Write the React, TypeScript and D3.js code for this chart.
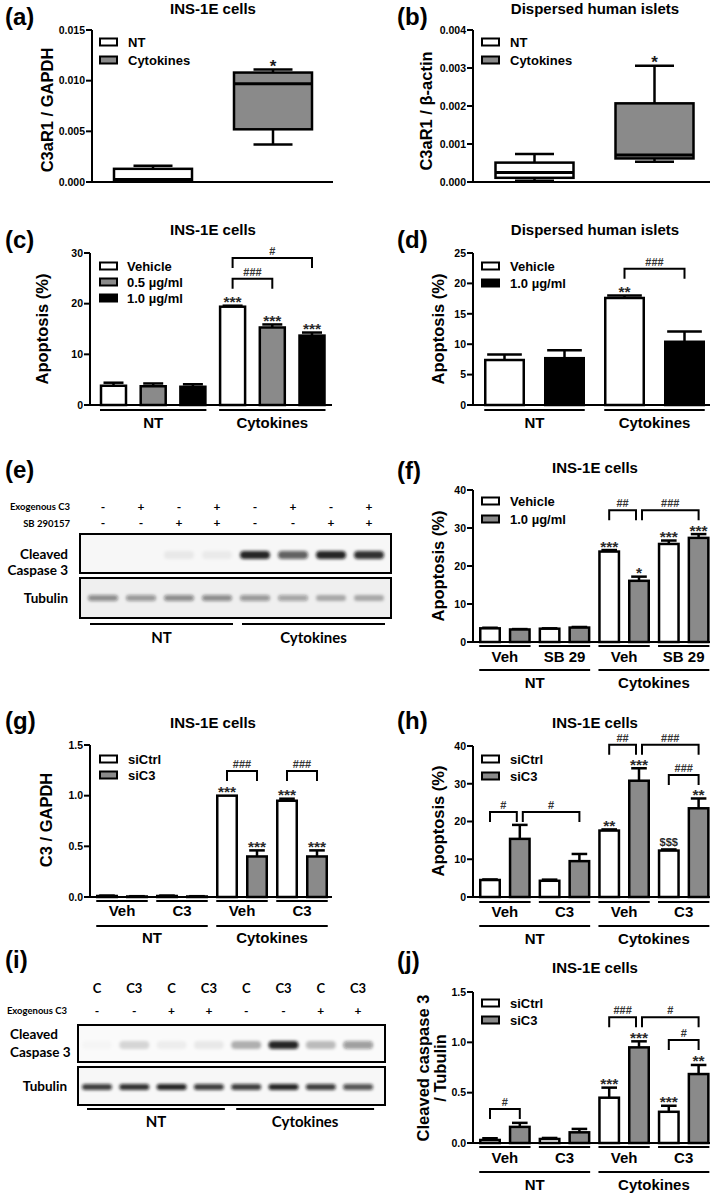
import React from 'react';
import * as d3 from 'd3';

const ARIAL = '"Liberation Sans", Arial, Helvetica, sans-serif';
const CALIBRI = 'Lato, "Open Sans", sans-serif';
const GRAY = '#8a8a8a';
const WHITE = '#ffffff';
const BLACK = '#000000';

type Bracket = { from: number; to: number; y: number; label: string };

// ---------- (a) / (b) box plots: [min, q1, median, q3, max]
const boxLegend = ['NT', 'Cytokines'];
const aBoxNT = [0.00003, 0.0001, 0.00025, 0.0013, 0.0016];
const aBoxCyt = [0.0037, 0.0052, 0.0097, 0.0108, 0.0111];
const aTicks = [0, 0.005, 0.01, 0.015];
const bBoxNT = [0.00003, 0.00011, 0.00025, 0.00051, 0.00074];
const bBoxCyt = [0.00053, 0.00062, 0.00071, 0.00207, 0.00306];
const bTicks = [0, 0.001, 0.002, 0.003, 0.004];
const boxStars = ['', '*'];

// ---------- (c)
const cLegend = ['Vehicle', '0.5 µg/ml', '1.0 µg/ml'];
const cValues = [3.8, 3.7, 3.6, 19.4, 15.3, 13.7];
const cErrors = [0.6, 0.55, 0.5, 0.2, 0.6, 0.6];
const cStars = ['', '', '', '***', '***', '***'];
const cTicks = [0, 10, 20, 30];
const cGroups = ['NT', 'Cytokines'];
const cBrackets: Bracket[] = [
  { from: 3, to: 4, y: 24.9, label: '###' },
  { from: 3, to: 5, y: 29.0, label: '#' },
];

// ---------- (d)
const dLegend = ['Vehicle', '1.0 µg/ml'];
const dValues = [7.4, 7.7, 17.6, 10.4];
const dErrors = [0.9, 1.3, 0.4, 1.7];
const dStars = ['', '', '**', ''];
const dTicks = [0, 5, 10, 15, 20, 25];
const dGroups = ['NT', 'Cytokines'];
const dBrackets: Bracket[] = [{ from: 2, to: 3, y: 22.4, label: '###' }];

// ---------- (e) western blot
const eExog = ['-', '+', '-', '+', '-', '+', '-', '+'];
const eSB = ['-', '-', '+', '+', '-', '-', '+', '+'];
const eCleaved = [0.0, 0.0, 0.06, 0.05, 0.9, 0.65, 0.9, 0.85];
const eTubulin = [0.45, 0.4, 0.45, 0.45, 0.4, 0.35, 0.3, 0.3];
const blotGroups = ['NT', 'Cytokines'];

// ---------- (f)
const fLegend = ['Vehicle', '1.0 µg/ml'];
const fValues = [3.6, 3.3, 3.5, 3.8, 23.8, 16.1, 25.8, 27.4];
const fErrors = [0.15, 0.1, 0.1, 0.15, 0.4, 1.1, 0.9, 1.0];
const fStars = ['', '', '', '', '***', '*', '***', '***'];
const fTicks = [0, 10, 20, 30, 40];
const fSub = ['Veh', 'SB 29', 'Veh', 'SB 29'];
const fGroups = ['NT', 'Cytokines'];
const fBrackets: Bracket[] = [
  { from: 4, to: 5, y: 34.7, label: '##' },
  { from: 5, to: 7, y: 34.7, label: '###' },
];

// ---------- (g)
const siLegend = ['siCtrl', 'siC3'];
const gValues = [0.01, 0.005, 0.01, 0.005, 1.0, 0.4, 0.95, 0.4];
const gErrors = [0.004, 0.003, 0.004, 0.003, 0.0, 0.06, 0.02, 0.06];
const gStars = ['', '', '', '', '***', '***', '***', '***'];
const gTicks = [0, 0.5, 1.0, 1.5];
const vcSub = ['Veh', 'C3', 'Veh', 'C3'];
const ntGroups = ['NT', 'Cytokines'];
const gBrackets: Bracket[] = [
  { from: 4, to: 5, y: 1.243, label: '###' },
  { from: 6, to: 7, y: 1.243, label: '###' },
];

// ---------- (h)
const hValues = [4.5, 15.4, 4.3, 9.5, 17.6, 30.8, 12.3, 23.5];
const hErrors = [0.15, 3.7, 0.3, 1.9, 0.3, 3.3, 0.3, 2.6];
const hStars = ['', '', '', '', '**', '***', '$$$', '**'];
const hTicks = [0, 10, 20, 30, 40];
const hBrackets: Bracket[] = [
  { from: 0, to: 1, y: 22.5, label: '#' },
  { from: 1, to: 3, y: 22.5, label: '#' },
  { from: 4, to: 5, y: 40.3, label: '##' },
  { from: 5, to: 7, y: 40.3, label: '###' },
  { from: 6, to: 7, y: 32.3, label: '###' },
];

// ---------- (i) western blot
const iLanes = ['C', 'C3', 'C', 'C3', 'C', 'C3', 'C', 'C3'];
const iExog = ['-', '-', '+', '+', '-', '-', '+', '+'];
const iCleaved = [0.02, 0.15, 0.05, 0.07, 0.3, 0.9, 0.25, 0.4];
const iTubulin = [0.8, 0.85, 0.9, 0.8, 0.8, 0.9, 0.8, 0.7];

// ---------- (j)
const jValues = [0.03, 0.16, 0.04, 0.106, 0.45, 0.95, 0.31, 0.685];
const jErrors = [0.017, 0.04, 0.01, 0.034, 0.1, 0.06, 0.06, 0.09];
const jStars = ['', '', '', '', '***', '***', '***', '**'];
const jTicks = [0, 0.5, 1.0, 1.5];
const jBrackets: Bracket[] = [
  { from: 0, to: 1, y: 0.338, label: '#' },
  { from: 4, to: 5, y: 1.25, label: '###' },
  { from: 5, to: 7, y: 1.25, label: '#' },
  { from: 6, to: 7, y: 1.023, label: '#' },
];

// ---------- helpers
function bandScale(n: number, c0: number, step: number, w: number) {
  const p = 1 - w / step;
  const start = c0 - (step * (1 + p)) / 2;
  return d3
    .scaleBand<number>()
    .domain(d3.range(n))
    .range([start, start + step * (n + p)])
    .padding(p);
}

function Frame({ x0, x1, y, ticks, fmt }: any) {
  const [yb, yt] = y.range();
  return (
    <g>
      <line x1={x0} x2={x0} y1={yt} y2={yb} stroke={BLACK} strokeWidth={2} />
      <line x1={x0 - 1} x2={x1} y1={yb} y2={yb} stroke={BLACK} strokeWidth={2} />
      {ticks.map((t: number) => (
        <g key={t}>
          <line x1={x0 - 6} x2={x0} y1={y(t)} y2={y(t)} stroke={BLACK} strokeWidth={2} />
          <text x={x0 - 7} y={y(t) + 3.8} textAnchor="end" fontSize={10.5} fontWeight="bold">
            {fmt(t)}
          </text>
        </g>
      ))}
    </g>
  );
}

function Legend({ labels, fills, x, y0, dy, textX }: any) {
  return (
    <g>
      {labels.map((l: string, i: number) => (
        <g key={l}>
          <rect x={x + 1} y={y0 + i * dy - 3.5} width={17} height={7} fill={fills[i]} stroke={BLACK} strokeWidth={2} />
          <text x={textX} y={y0 + i * dy + 4.5} fontSize={13} fontWeight="bold">
            {l}
          </text>
        </g>
      ))}
    </g>
  );
}

function Heading({ title, titleX, titleY, label, labelX, labelY, ylabel, ylabelX, ylabelY }: any) {
  return (
    <g>
      <text x={labelX} y={labelY} fontSize={24} fontWeight="bold">
        {label}
      </text>
      {title && (
        <text x={titleX} y={titleY} fontSize={15} fontWeight="bold" textAnchor="middle">
          {title}
        </text>
      )}
      {ylabel.map((l: string, i: number) => (
        <text
          key={i}
          transform={`translate(${ylabelX[i]},${ylabelY}) rotate(-90)`}
          textAnchor="middle"
          dominantBaseline="central"
          fontSize={16.5}
          fontWeight="bold"
        >
          {l}
        </text>
      ))}
    </g>
  );
}

function BoxPanel(p: any) {
  const y = d3.scaleLinear().domain([0, p.max]).range([p.yBottom, p.yTop]);
  const x = bandScale(p.boxes.length, p.c0, p.step, p.w);
  const bw = x.bandwidth();
  return (
    <g>
      <Heading {...p} />
      <Frame x0={p.x0} x1={p.x1} y={y} ticks={p.ticks} fmt={d3.format('.3f')} />
      {p.boxes.map((b: number[], i: number) => {
        const [mn, q1, md, q3, mx] = b;
        const cx = (x(i) as number) + bw / 2;
        return (
          <g key={i}>
            <line x1={cx} x2={cx} y1={y(q3)} y2={y(mx)} stroke={BLACK} strokeWidth={2.5} />
            <line x1={cx} x2={cx} y1={y(q1)} y2={y(mn)} stroke={BLACK} strokeWidth={2.5} />
            <line x1={cx - bw / 4} x2={cx + bw / 4} y1={y(mx)} y2={y(mx)} stroke={BLACK} strokeWidth={2.5} />
            <line x1={cx - bw / 4} x2={cx + bw / 4} y1={y(mn)} y2={y(mn)} stroke={BLACK} strokeWidth={2.5} />
            <rect x={x(i)} y={y(q3)} width={bw} height={y(q1) - y(q3)} fill={p.fills[i]} stroke={BLACK} strokeWidth={2.5} />
            <line x1={x(i)} x2={(x(i) as number) + bw} y1={y(md)} y2={y(md)} stroke={BLACK} strokeWidth={3} />
            {p.stars[i] && (
              <text x={cx} y={y(mx) + 2} textAnchor="middle" fontSize={17} fontWeight="bold" fill="#1a1a1a">
                {p.stars[i]}
              </text>
            )}
          </g>
        );
      })}
      <Legend labels={p.legend} fills={p.fills} x={p.legendX} y0={p.legendY0} dy={p.legendDy} textX={p.textX} />
    </g>
  );
}

function BarPanel(p: any) {
  const y = d3.scaleLinear().domain([0, p.max]).range([p.yBottom, p.yTop]);
  const n = p.values.length;
  const x = bandScale(n, p.c0, p.step, p.w);
  const bw = x.bandwidth();
  const cx = (i: number) => (x(i) as number) + bw / 2;
  const capW = bw * (p.capFrac || 0.8);
  const ns = p.legend.length;
  const brackets: Bracket[] = p.brackets;
  return (
    <g>
      <Heading {...p} />
      {p.values.map((v: number, i: number) => {
        const e = p.errors[i];
        const top = y(v + e);
        const star = p.stars[i];
        const small = star.includes('$');
        return (
          <g key={i}>
            {e > 0 && (
              <>
                <line x1={cx(i)} x2={cx(i)} y1={y(v)} y2={top} stroke={BLACK} strokeWidth={2.5} />
                <line x1={cx(i) - capW / 2} x2={cx(i) + capW / 2} y1={top} y2={top} stroke={BLACK} strokeWidth={2.5} />
              </>
            )}
            <rect x={x(i)} y={y(v)} width={bw} height={y(0) - y(v)} fill={p.fills[i % ns]} stroke={BLACK} strokeWidth={2.5} />
            {star && (
              <text
                x={cx(i)}
                y={small ? top - 3 : top + 1.5}
                textAnchor="middle"
                fontSize={small ? 11 : 15.5}
                fontWeight="bold"
                fill="#2a2a2a"
              >
                {star}
              </text>
            )}
          </g>
        );
      })}
      <Frame x0={p.x0} x1={p.x1} y={y} ticks={p.ticks} fmt={p.fmt} />
      {brackets.map((b, k) => {
        const ls = brackets.some((o) => o !== b && o.y === b.y && o.to === b.from);
        const rs = brackets.some((o) => o !== b && o.y === b.y && o.from === b.to);
        const xl = cx(b.from) + (ls ? 3 : 0);
        const xr = cx(b.to) - (rs ? 3 : 0);
        const yb = y(b.y);
        return (
          <g key={k}>
            <path d={`M${xl},${yb + 10}V${yb}H${xr}V${yb + 10}`} fill="none" stroke={BLACK} strokeWidth={2} />
            <text x={(xl + xr) / 2} y={yb - 3} textAnchor="middle" fontSize={11} fontWeight="bold" fill="#333">
              {b.label}
            </text>
          </g>
        );
      })}
      {p.rows.map((r: any, ri: number) =>
        r.labels.map((l: string, k: number) => {
          const a = x(k * r.span) as number;
          const bEnd = (x(k * r.span + r.span - 1) as number) + bw;
          return (
            <g key={`${ri}-${k}`}>
              <line x1={a - 1} x2={bEnd + 1} y1={r.lineY} y2={r.lineY} stroke={BLACK} strokeWidth={2} />
              <text x={(a + bEnd) / 2} y={r.textY} textAnchor="middle" fontSize={15} fontWeight="bold">
                {l}
              </text>
            </g>
          );
        })
      )}
      <Legend labels={p.legend} fills={p.fills} x={p.legendX} y0={p.legendY0} dy={p.legendDy} textX={p.textX} />
    </g>
  );
}

function Blot(p: any) {
  const n = p.cleaved.length;
  const x = bandScale(n, p.c0, p.step, p.laneW);
  const bw = x.bandwidth();
  const cx = (i: number) => (x(i) as number) + bw / 2;
  return (
    <g fontFamily={CALIBRI}>
      <text x={p.labelX} y={p.labelY} fontSize={24} fontWeight="bold" fontFamily={ARIAL}>
        {p.label}
      </text>
      {p.headers.map((h: any, hi: number) => (
        <g key={hi}>
          {h.name && (
            <text x={h.nameX} y={h.y} textAnchor="end" fontSize={9.5} fontWeight="bold">
              {h.name}
            </text>
          )}
          {h.values.map((v: string, i: number) => (
            <text key={i} x={cx(i)} y={h.y + (h.dy || 0)} textAnchor="middle" fontSize={h.size} fontWeight="bold">
              {v}
            </text>
          ))}
        </g>
      ))}
      <rect x={p.boxX0} y={p.cBox[0]} width={p.boxX1 - p.boxX0} height={p.cBox[1] - p.cBox[0]} fill={p.cBg} stroke={BLACK} strokeWidth={2} />
      <rect x={p.boxX0} y={p.tBox[0]} width={p.boxX1 - p.boxX0} height={p.tBox[1] - p.tBox[0]} fill={p.tBg} stroke={BLACK} strokeWidth={2} />
      {p.cleaved.map((v: number, i: number) => (
        <rect
          key={`c${i}`}
          x={cx(i) - 15}
          y={p.cBandY - 4}
          width={30}
          height={8}
          rx={4}
          fill="#111"
          fillOpacity={v}
          filter="url(#bandBlur)"
        />
      ))}
      {p.tubulin.map((v: number, i: number) => (
        <rect
          key={`t${i}`}
          x={cx(i) - 15}
          y={p.tBandY - 3}
          width={30}
          height={6}
          rx={3}
          fill="#111"
          fillOpacity={v}
          filter="url(#bandBlur)"
        />
      ))}
      {p.rowLabels.map((r: any, i: number) => (
        <text key={i} x={r.x} y={r.y} textAnchor={r.anchor} fontSize={13.5} fontWeight="bold">
          {r.text}
        </text>
      ))}
      {p.groups.map((g: string, k: number) => {
        const a = (x(k * 4) as number) + p.gInset;
        const b = (x(k * 4 + 3) as number) + bw;
        return (
          <g key={g}>
            <line x1={a} x2={b} y1={p.gLineY} y2={p.gLineY} stroke={BLACK} strokeWidth={2} />
            <text x={(a + b) / 2} y={p.gTextY} textAnchor="middle" fontSize={15} fontWeight="bold">
              {g}
            </text>
          </g>
        );
      })}
    </g>
  );
}

export default function App() {
  const f1 = d3.format('.1f');
  const f0 = d3.format('d');
  return (
    <svg
      width={716}
      height={1194}
      style={{ position: 'absolute', left: 0, top: 0, background: '#fff' }}
      fontFamily={ARIAL}
    >
      <defs>
        <filter id="bandBlur" x="-50%" y="-150%" width="200%" height="400%">
          <feGaussianBlur stdDeviation="1.6" />
        </filter>
      </defs>
      <rect width={716} height={1194} fill="#fff" />

      {/* (a) */}
      <BoxPanel
        label="(a)" labelX={5} labelY={25}
        title="INS-1E cells" titleX={213} titleY={13.5}
        ylabel={['C3aR1 / GAPDH']} ylabelX={[47]} ylabelY={110}
        x0={92} x1={333} yTop={30} yBottom={182} max={0.015} ticks={aTicks}
        c0={153} step={120} w={78}
        boxes={[aBoxNT, aBoxCyt]} fills={[WHITE, GRAY]} stars={boxStars}
        legend={boxLegend} legendX={99} legendY0={42} legendDy={18} textX={128}
      />
      {/* (b) */}
      <BoxPanel
        label="(b)" labelX={397} labelY={25}
        title="Dispersed human islets" titleX={595} titleY={13.5}
        ylabel={['C3aR1 / β-actin']} ylabelX={[426]} ylabelY={111}
        x0={473} x1={710} yTop={30} yBottom={182} max={0.004} ticks={bTicks}
        c0={534.5} step={120} w={78}
        boxes={[bBoxNT, bBoxCyt]} fills={[WHITE, GRAY]} stars={boxStars}
        legend={boxLegend} legendX={481} legendY0={42} legendDy={18} textX={510}
      />
      {/* (c) */}
      <BarPanel
        label="(c)" labelX={5} labelY={248}
        title="INS-1E cells" titleX={213} titleY={235}
        ylabel={['Apoptosis (%)']} ylabelX={[42]} ylabelY={329}
        x0={90} x1={332} yTop={253} yBottom={405} max={30} ticks={cTicks} fmt={f0}
        c0={113.5} step={39.7} w={25}
        values={cValues} errors={cErrors} stars={cStars} brackets={cBrackets}
        fills={[WHITE, GRAY, BLACK]} legend={cLegend} legendX={99} legendY0={266} legendDy={16} textX={127}
        rows={[{ labels: cGroups, span: 3, lineY: 410, textY: 428 }]}
      />
      {/* (d) */}
      <BarPanel
        label="(d)" labelX={397} labelY={248}
        title="Dispersed human islets" titleX={595} titleY={235}
        ylabel={['Apoptosis (%)']} ylabelX={[438]} ylabelY={329}
        x0={473} x1={710} yTop={253} yBottom={405} max={25} ticks={dTicks} fmt={f0}
        c0={504.5} step={60} w={38.5} capFrac={0.9}
        values={dValues} errors={dErrors} stars={dStars} brackets={dBrackets}
        fills={[WHITE, BLACK]} legend={dLegend} legendX={481} legendY0={266} legendDy={17} textX={510}
        rows={[{ labels: dGroups, span: 2, lineY: 410, textY: 428 }]}
      />
      {/* (e) */}
      <Blot
        label="(e)" labelX={5} labelY={478}
        c0={103} step={38} laneW={32}
        headers={[
          { name: 'Exogenous C3', nameX: 70, y: 510, values: eExog, size: 12, dy: 1 },
          { name: 'SB 290157', nameX: 70, y: 527, values: eSB, size: 12, dy: 0 },
        ]}
        boxX0={80} boxX1={391} cBox={[534, 573]} tBox={[578, 618]} cBg="#f7f7f7" tBg="#efefef"
        cBandY={555} tBandY={598} cleaved={eCleaved} tubulin={eTubulin}
        rowLabels={[
          { text: 'Cleaved', x: 68, y: 559, anchor: 'end' },
          { text: 'Caspase 3', x: 68, y: 575, anchor: 'end' },
          { text: 'Tubulin', x: 68, y: 603, anchor: 'end' },
        ]}
        groups={blotGroups} gInset={3} gLineY={624} gTextY={643}
      />
      {/* (f) */}
      <BarPanel
        label="(f)" labelX={397} labelY={479}
        title="INS-1E cells" titleX={595} titleY={473}
        ylabel={['Apoptosis (%)']} ylabelX={[438]} ylabelY={566}
        x0={473} x1={710} yTop={490} yBottom={642} max={40} ticks={fTicks} fmt={f0}
        c0={490} step={29.8} w={19.5}
        values={fValues} errors={fErrors} stars={fStars} brackets={fBrackets}
        fills={[WHITE, GRAY]} legend={fLegend} legendX={481} legendY0={501} legendDy={18} textX={510}
        rows={[
          { labels: fSub, span: 2, lineY: 646, textY: 662 },
          { labels: fGroups, span: 4, lineY: 670, textY: 688 },
        ]}
      />
      {/* (g) */}
      <BarPanel
        label="(g)" labelX={5} labelY={729}
        title="INS-1E cells" titleX={213} titleY={728}
        ylabel={['C3 / GAPDH']} ylabelX={[46]} ylabelY={820}
        x0={90} x1={332} yTop={745} yBottom={897} max={1.5} ticks={gTicks} fmt={f1}
        c0={107} step={30} w={19.5}
        values={gValues} errors={gErrors} stars={gStars} brackets={gBrackets}
        fills={[WHITE, GRAY]} legend={siLegend} legendX={99} legendY0={759} legendDy={16} textX={128}
        rows={[
          { labels: vcSub, span: 2, lineY: 901, textY: 916 },
          { labels: ntGroups, span: 4, lineY: 926, textY: 943 },
        ]}
      />
      {/* (h) */}
      <BarPanel
        label="(h)" labelX={397} labelY={729}
        title="INS-1E cells" titleX={595} titleY={728}
        ylabel={['Apoptosis (%)']} ylabelX={[438]} ylabelY={821}
        x0={473} x1={710} yTop={746} yBottom={897} max={40} ticks={hTicks} fmt={f0}
        c0={490} step={29.8} w={19.5}
        values={hValues} errors={hErrors} stars={hStars} brackets={hBrackets}
        fills={[WHITE, GRAY]} legend={siLegend} legendX={481} legendY0={759} legendDy={17} textX={510}
        rows={[
          { labels: vcSub, span: 2, lineY: 902, textY: 917 },
          { labels: ntGroups, span: 4, lineY: 926, textY: 944 },
        ]}
      />
      {/* (i) */}
      <Blot
        label="(i)" labelX={5} labelY={968}
        c0={97} step={37.3} laneW={32}
        headers={[
          { name: '', nameX: 0, y: 993, values: iLanes, size: 13 },
          { name: 'Exogenous C3', nameX: 67, y: 1014, values: iExog, size: 12, dy: 1 },
        ]}
        boxX0={78} boxX1={385} cBox={[1025, 1062]} tBox={[1067, 1105]} cBg="#fafafa" tBg="#f7f7f7"
        cBandY={1045} tBandY={1087} cleaved={iCleaved} tubulin={iTubulin}
        rowLabels={[
          { text: 'Cleaved', x: 10, y: 1039, anchor: 'start' },
          { text: 'Caspase 3', x: 10, y: 1057, anchor: 'start' },
          { text: 'Tubulin', x: 67, y: 1091, anchor: 'end' },
        ]}
        groups={blotGroups} gInset={6} gLineY={1109} gTextY={1127}
      />
      {/* (j) */}
      <BarPanel
        label="(j)" labelX={397} labelY={969}
        title="INS-1E cells" titleX={595} titleY={973}
        ylabel={['Cleaved caspase 3', '/ Tubulin']} ylabelX={[423, 440]} ylabelY={1068}
        x0={473} x1={710} yTop={992} yBottom={1143} max={1.5} ticks={jTicks} fmt={f1}
        c0={490} step={29.8} w={19.5}
        values={jValues} errors={jErrors} stars={jStars} brackets={jBrackets}
        fills={[WHITE, GRAY]} legend={siLegend} legendX={481} legendY0={1003} legendDy={17} textX={510}
        rows={[
          { labels: vcSub, span: 2, lineY: 1147, textY: 1163 },
          { labels: ntGroups, span: 4, lineY: 1172, textY: 1190 },
        ]}
      />
    </svg>
  );
}
